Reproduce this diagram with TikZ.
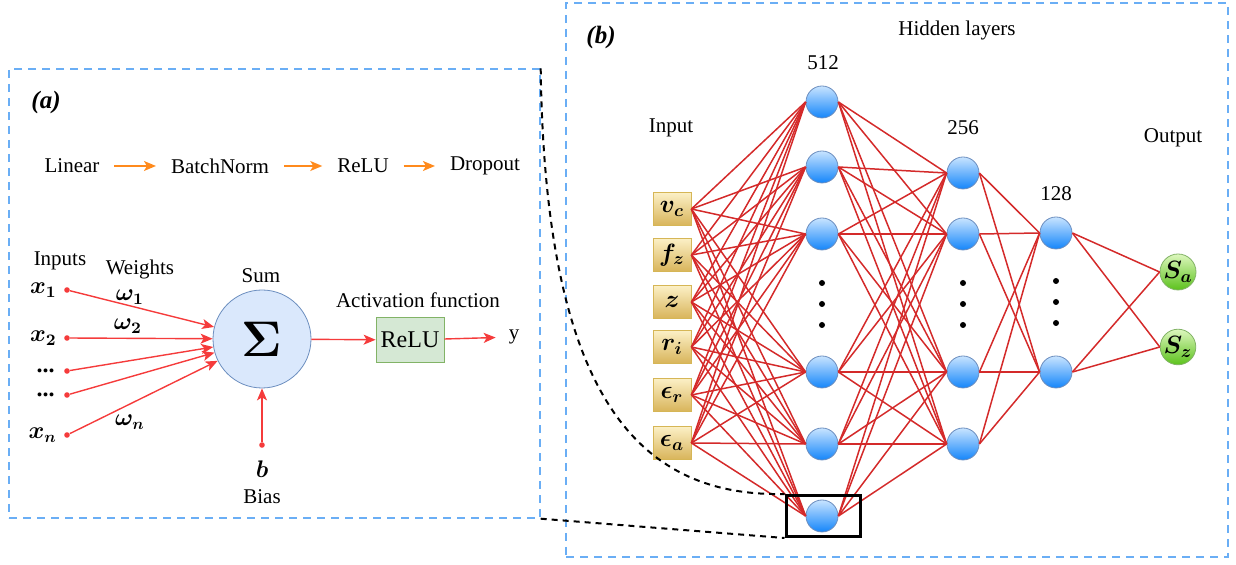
\RequirePackage{fix-cm}
\documentclass[tikz,border=0pt]{standalone}
\usepackage[no-math]{fontspec}
\setmainfont{Liberation Serif}
\usepackage{amsmath}
\usepackage{bm}
\usetikzlibrary{positioning}
\usetikzlibrary{arrows.meta}

\definecolor{netred}{HTML}{D42A2A}
\definecolor{arrred}{HTML}{F53B3B}
\definecolor{arrorange}{HTML}{FF8A1C}
\definecolor{panelblue}{HTML}{6AAEF5}
\definecolor{sumfill}{HTML}{DAE8FC}
\definecolor{sumdraw}{HTML}{6C8EBF}
\definecolor{relufill}{HTML}{D5E8D4}
\definecolor{reludraw}{HTML}{82B366}
\definecolor{goldtop}{HTML}{FCF0C6}
\definecolor{goldbot}{HTML}{D8B45A}
\definecolor{golddraw}{HTML}{D6B656}
\definecolor{bluetop}{HTML}{C8E4FF}
\definecolor{bluebot}{HTML}{1485FA}
\definecolor{greentop}{HTML}{DDF7BE}
\definecolor{greenbot}{HTML}{5CC21C}

\begin{document}
\begin{tikzpicture}[x=0.5pt,y=-0.5pt,
  every node/.style={font=\fontsize{10.5}{12}\selectfont},
  panel/.style={draw=panelblue,dashed,dash pattern=on 4pt off 3pt,line width=0.7pt,minimum width=#1},
  tag/.style={font=\fontsize{12.5}{14}\selectfont\bfseries\itshape},
  mlab/.style={font=\fontsize{12}{14}\selectfont},
  redarr/.style={draw=arrred,line width=0.7pt,-{Stealth[length=6pt,width=5pt,inset=1.5pt]}},
  orarr/.style={draw=arrorange,line width=0.7pt,-{Stealth[length=6pt,width=5pt,inset=1.5pt]},shorten <=4pt,shorten >=4pt},
  dotnode/.style={circle,fill=arrred,inner sep=0pt,minimum size=2.8pt},
  inbox/.style={rectangle,draw=golddraw,top color=goldtop,bottom color=goldbot,minimum width=19pt,minimum height=16.5pt,inner sep=0pt,font=\fontsize{12.5}{14}\selectfont},
  hid/.style={circle,draw=sumdraw,top color=bluetop,bottom color=bluebot,minimum size=16pt,inner sep=0pt},
  outnode/.style={circle,draw=reludraw,top color=greentop,bottom color=greenbot,minimum size=15pt,inner sep=0pt,font=\fontsize{12.5}{14}\selectfont},
  net/.style={draw=netred,line width=0.75pt},
  vdot/.style={circle,fill=black,inner sep=0pt,minimum size=3pt},
  zoomline/.style={draw=black,dashed,dash pattern=on 3pt off 2.5pt,line width=1pt}]

\useasboundingbox (0,0) rectangle (1236,565);

% panels
\node[panel=265.5pt,minimum height=224.5pt] (pa) at (274.5,293.5) {};
\node[panel=331pt,minimum height=277pt] (pb) at (897,280) {};
\node[tag] (ta) at (46,102) {(a)};
\node[tag] (tb) at (601,37) {(b)};

% (a) block chain
\node (lin) at (72,166) {Linear};
\node (bn) at (220,166) {BatchNorm};
\node (rl) at (363,166) {ReLU};
\node (dp) at (485,166) {Dropout};
\draw[orarr] (lin) -- (bn);
\draw[orarr] (bn) -- (rl);
\draw[orarr] (rl) -- (dp);

% (a) neuron
\node[circle,draw=sumdraw,fill=sumfill,minimum size=49pt,inner sep=0pt,font=\fontsize{25}{28}\selectfont] (sum) at (262,339) {$\bm{\Sigma}$};
\node[rectangle,draw=reludraw,fill=relufill,minimum width=34pt,minimum height=22.5pt,inner sep=0pt,font=\fontsize{12}{14}\selectfont] (relu) at (410,340) {ReLU};
\node (ylab) at (514,337) {y};
\node (inl) at (60,261) {Inputs};
\node (wl) at (140,269) {Weights};
\node (suml) at (261,276) {Sum};
\node (actl) at (418,300) {Activation function};

\foreach \n/\y in {d1/290,d2/338,d3/371,d4/395,d5/435}
  \node[dotnode] (\n) at (67,\y) {};
\node[mlab,left=0pt of d1] (x1) {$\bm{x_1}$};
\node[mlab,left=0pt of d2] (x2) {$\bm{x_2}$};
\node[mlab,left=1pt of d3] (x3) {\textbf{...}};
\node[mlab,left=1pt of d4] (x4) {\textbf{...}};
\node[mlab,left=0pt of d5] (x5) {$\bm{x_n}$};
\foreach \n in {d1,d2,d3,d4,d5}
  \draw[redarr] (\n) -- (sum);
\node[mlab] (w1) at (130,297) {$\bm{\omega_1}$};
\node[mlab] (w2) at (128,326) {$\bm{\omega_2}$};
\node[mlab] (wn) at (130,422) {$\bm{\omega_n}$};

\node[dotnode] (bd) at (262,445) {};
\node[mlab] (bl) at (262,469) {$\bm{b}$};
\node (biasl) at (262,497) {Bias};
\draw[redarr] (bd) -- (sum);
\draw[redarr] (sum) -- (relu);
\draw[redarr,shorten >=3pt] (relu) -- (ylab);

% (b) network
\node (inpl) at (671,128) {Input};
\node (hidl) at (957,30) {Hidden layers};
\node (outl) at (1173,138) {Output};
\node (n512) at (823,63) {512};
\node (n256) at (963,128) {256};
\node (n128) at (1056,194) {128};

\foreach \y/\t [count=\i] in {209/v_c,255/f_z,302/z,347/r_i,395/\epsilon_r,443/\epsilon_a}
  \node[inbox] (in\i) at (672,\y) {$\bm{\t}$};
\foreach \y [count=\i] in {102,167,234,372,444,516}
  \node[hid] (ha\i) at (822,\y) {};
\foreach \y [count=\i] in {173,234,372,444}
  \node[hid] (hb\i) at (963,\y) {};
\foreach \y [count=\i] in {233,372}
  \node[hid] (hc\i) at (1056,\y) {};
\node[outnode] (out1) at (1178,272) {$\bm{S_a}$};
\node[outnode] (out2) at (1178,347) {$\bm{S_z}$};

\foreach \x/\a in {822/283,963/283,1056/281}
  \foreach \d in {0,21,42}
    \node[vdot] at (\x,\a+\d) {};

\foreach \i in {1,...,6}
  \foreach \j in {1,...,6}
    \draw[net] (in\i.east) -- (ha\j.west);
\foreach \i in {1,...,6}
  \foreach \j in {1,...,4}
    \draw[net] (ha\i.east) -- (hb\j.west);
\foreach \i in {1,...,4}
  \foreach \j in {1,2}
    \draw[net] (hb\i.east) -- (hc\j.west);
\foreach \i in {1,2}
  \foreach \j in {1,2}
    \draw[net] (hc\i.east) -- (out\j.west);

% zoom link
\node[draw=black,line width=1.5pt,minimum width=37pt,minimum height=20.5pt,inner sep=0pt] (focus) at (823,516) {};
\draw[zoomline] (pa.north east) .. controls (545,400) and (640,497) .. (focus.north west);
\draw[zoomline] (pa.south east) -- (focus.south west);
\end{tikzpicture}
\end{document}
